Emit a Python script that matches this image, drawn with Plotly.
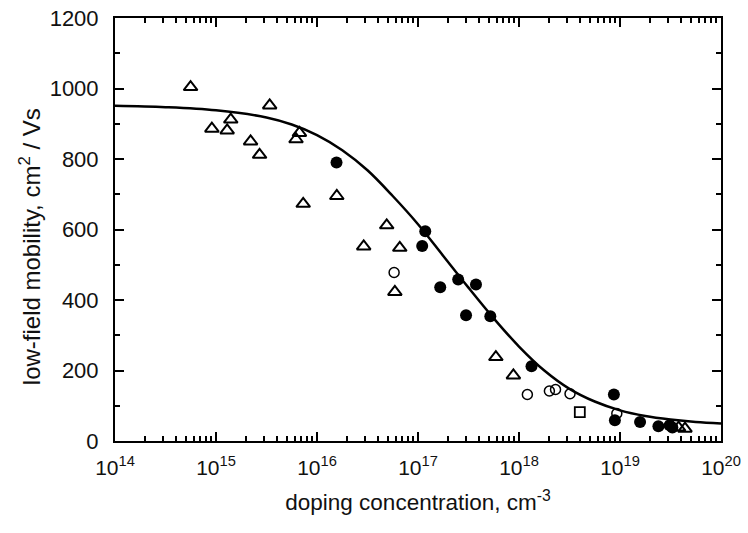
import plotly.graph_objects as go

# ---- data ----
tri_N = [5.6e14, 9.1e14, 1.29e15, 1.4e15, 2.2e15, 2.7e15, 3.4e15, 6.2e15, 6.7e15, 7.3e15,
         1.57e16, 2.9e16, 4.9e16, 5.9e16, 6.6e16, 5.9e17, 8.8e17, 3.8e19, 4.4e19]
tri_mu = [1004, 886, 881, 912, 850, 812, 952, 856, 874, 673,
          695, 552, 612, 423, 548, 238, 186, 38, 35]

fill_N = [1.56e16, 1.1e17, 1.18e17, 1.66e17, 2.5e17, 2.99e17, 3.75e17, 5.2e17, 1.33e18,
          8.7e18, 8.9e18, 1.58e19, 2.4e19, 3.1e19, 3.3e19]
fill_mu = [790, 553, 595, 436, 458, 357, 444, 354, 212,
           132, 59, 54, 42, 45, 38]

circ_N = [5.8e16, 1.21e18, 2.0e18, 2.3e18, 3.2e18, 9.3e18]
circ_mu = [478, 132, 142, 146, 134, 78]

sq_N = [4.0e18]
sq_mu = [82]

curve_N = [1e14, 3.16e14, 1e15, 3.16e15, 5.62e15, 1e16, 1.78e16, 3.16e16, 5.62e16,
           1e17, 1.78e17, 3.16e17, 5.62e17, 1e18, 1.78e18, 3.16e18, 5.62e18,
           1e19, 1.78e19, 3.16e19, 5.62e19, 1e20]
curve_mu = [951, 947, 938, 918, 898, 868, 825, 768, 695,
            615, 525, 435, 348, 268, 200, 148, 112,
            87, 71, 61, 54, 50]

x_tickvals = [1e14, 1e15, 1e16, 1e17, 1e18, 1e19, 1e20]
x_ticktext = ["10<sup>14</sup>", "10<sup>15</sup>", "10<sup>16</sup>", "10<sup>17</sup>",
              "10<sup>18</sup>", "10<sup>19</sup>", "10<sup>20</sup>"]
y_tickvals = [0, 200, 400, 600, 800, 1000, 1200]

x_title = "doping concentration, cm<sup>-3</sup>"
y_title = "low-field mobility, cm<sup>2</sup> / Vs"

FONT = "Liberation Sans, Arial, sans-serif"

fig = go.Figure()
fig.add_trace(go.Scatter(x=curve_N, y=curve_mu, mode="lines",
                         line=dict(color="black", width=2.5, shape="spline", smoothing=1.0),
                         showlegend=False))
fig.add_trace(go.Scatter(x=tri_N, y=tri_mu, mode="markers",
                         marker=dict(symbol="triangle-up-open", size=12, color="black",
                                     line=dict(width=2, color="black")),
                         showlegend=False))
fig.add_trace(go.Scatter(x=circ_N, y=circ_mu, mode="markers",
                         marker=dict(symbol="circle-open", size=10, color="black",
                                     line=dict(width=1.5, color="black")),
                         showlegend=False))
fig.add_trace(go.Scatter(x=sq_N, y=sq_mu, mode="markers",
                         marker=dict(symbol="square-open", size=10, color="black",
                                     line=dict(width=1.8, color="black")),
                         showlegend=False))
fig.add_trace(go.Scatter(x=fill_N, y=fill_mu, mode="markers",
                         marker=dict(symbol="circle", size=12, color="black"),
                         showlegend=False))

fig.update_layout(
    width=748, height=533,
    margin=dict(l=115, r=27, t=18, b=92),
    paper_bgcolor="white", plot_bgcolor="white",
    font=dict(family=FONT, size=22, color="#111"),
    xaxis=dict(type="log", range=[14, 20], tickvals=x_tickvals, ticktext=x_ticktext,
               automargin=False,
               ticks="inside", ticklen=9, tickwidth=2, tickcolor="black",
               showline=True, linecolor="black", linewidth=2, mirror="ticks",
               showgrid=False, zeroline=False, ticklabelstandoff=7,
               minor=dict(ticks="inside", ticklen=5, tickwidth=1.5, tickcolor="black",
                          dtick="D1", showgrid=False),
               title=dict(text=x_title, font=dict(size=22.5), standoff=16),
               tickfont=dict(size=21)),
    yaxis=dict(range=[0, 1200], tickvals=y_tickvals,
               automargin=False,
               ticks="inside", ticklen=9, tickwidth=2, tickcolor="black",
               showline=True, linecolor="black", linewidth=2, mirror="ticks",
               showgrid=False, zeroline=False, ticklabelstandoff=10,
               minor=dict(ticks="inside", ticklen=5, tickwidth=1.5, tickcolor="black",
                          dtick=100, showgrid=False),
               tickfont=dict(size=22)),
    annotations=[dict(text=y_title, textangle=-90, xref="paper", yref="paper",
                      x=-0.14, y=0.4586, xanchor="center", yanchor="middle",
                      showarrow=False, font=dict(size=24))],
)

# remove the default page margin so the figure sits at the window's top-left corner
fig.write_html("out.html", config={"displayModeBar": False},
               post_script="document.body.style.margin='0';document.body.style.overflow='hidden';")
